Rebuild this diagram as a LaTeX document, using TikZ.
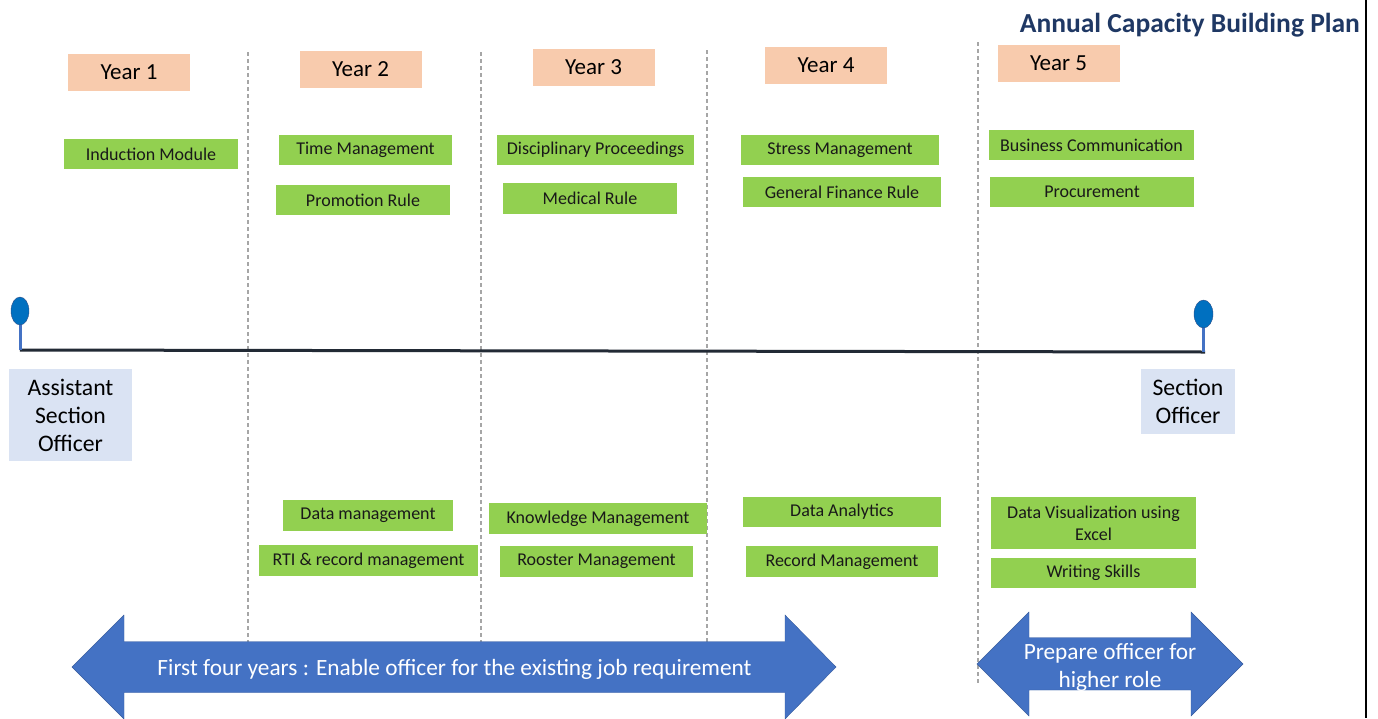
\documentclass[tikz,border=0pt]{standalone}
\usepackage{fontspec}
\setmainfont{Carlito}
\definecolor{peach}{HTML}{F8CBAD}
\definecolor{lgreen}{HTML}{92D050}
\definecolor{lblue}{HTML}{DAE3F3}
\definecolor{mblue}{HTML}{4472C4}
\definecolor{pinblue}{HTML}{0070C0}
\definecolor{navy}{HTML}{1F3864}
\definecolor{dline}{HTML}{A6A6A6}
\definecolor{tline}{HTML}{222A35}
\begin{document}
\begin{tikzpicture}[x=1pt,y=-1pt,
  yearbox/.style={fill=peach,draw=none,inner sep=0pt,minimum width=122pt,minimum height=37pt,font=\fontsize{23}{27}\selectfont},
  gbox/.style={fill=lgreen,draw=none,inner sep=0pt,minimum height=30pt,font=\fontsize{18}{22}\selectfont,text=black!90},
  rolebox/.style={fill=lblue,draw=none,inner sep=0pt,align=center,font=\fontsize{23.7}{28}\selectfont},
  sep/.style={draw=dline,line width=1.2pt,dash pattern=on 4pt off 3pt},
  bigarrow/.style={fill=mblue,draw=mblue!80!black,line width=0.4pt},
  arrowtext/.style={text=white,align=center,font=\fontsize{23.3}{28}\selectfont,inner sep=0pt},
  stem/.style={draw=mblue,line width=3pt},
  pin/.style={fill=pinblue,draw=mblue!70!black,line width=0.4pt}
]
\useasboundingbox (0,0) rectangle (1378,718);
\fill[white] (0,0) rectangle (1378,718);

% right border
\draw[black,line width=2pt] (1366,0) -- (1366,718);

% title
\node[anchor=east,text=navy,font=\bfseries\fontsize{27.5}{32}\selectfont,inner sep=0pt] (title) at (1360,25) {Annual Capacity Building Plan};

% separators
\coordinate (s1a) at (248,52); \coordinate (s1b) at (248,650);
\coordinate (s2a) at (481,52); \coordinate (s2b) at (481,650);
\coordinate (s3a) at (707,50); \coordinate (s3b) at (707,650);
\coordinate (s4a) at (978,42); \coordinate (s4b) at (978,684);
\draw[sep] (s1a) -- (s1b);
\draw[sep] (s2a) -- (s2b);
\draw[sep] (s3a) -- (s3b);
\draw[sep] (s4a) -- (s4b);

% year boxes
\node[yearbox] (y1) at (129,72.5) {Year 1};
\node[yearbox] (y2) at (360.5,69.5) {Year 2};
\node[yearbox] (y3) at (593.5,67.5) {Year 3};
\node[yearbox] (y4) at (826,65.5) {Year 4};
\node[yearbox] (y5) at (1058.5,63) {Year 5};

% upper green boxes
\node[gbox,minimum width=174pt] (induction) at (151,154) {Induction Module};
\node[gbox,minimum width=173pt] (time) at (365.5,150) {Time Management};
\node[gbox,minimum width=174pt] (promotion) at (363,200) {Promotion Rule};
\node[gbox,minimum width=197pt] (disc) at (595.5,150) {Disciplinary Proceedings};
\node[gbox,minimum width=174pt,minimum height=31pt] (medical) at (590,198.5) {Medical Rule};
\node[gbox,minimum width=198pt] (stress) at (840,150) {Stress Management};
\node[gbox,minimum width=198pt] (gfr) at (842,192) {General Finance Rule};
\node[gbox,minimum width=205pt] (business) at (1091.5,145) {Business Communication};
\node[gbox,minimum width=204pt] (procure) at (1092,192) {Procurement};

% timeline
\coordinate (tl) at (20,350);
\coordinate (tr) at (1205,352);
\draw[tline,line width=3pt] (tl) -- (tr);
\coordinate (p1) at (20,311);
\coordinate (p2) at (1203.5,314);
\draw[stem] (p1) -- (tl);
\draw[stem] (p2) -- (1203.5,352);
\draw[pin] (p1) ellipse [x radius=9pt, y radius=14pt];
\draw[pin] (p2) ellipse [x radius=9.5pt, y radius=14pt];

% role boxes
\node[rolebox,minimum width=123pt,minimum height=92pt] (aso) at (70.5,415) {Assistant\\Section\\Officer};
\node[rolebox,minimum width=94pt,minimum height=65pt] (so) at (1188,401.5) {Section\\Officer};

% lower green boxes
\node[gbox,minimum width=170pt,minimum height=31pt] (datam) at (368,515.5) {Data management};
\node[gbox,minimum width=219pt,minimum height=31pt] (rti) at (368.5,560.5) {RTI \& record management};
\node[gbox,minimum width=218pt,minimum height=31pt] (know) at (598,518.5) {Knowledge Management};
\node[gbox,minimum width=193pt,minimum height=31pt] (rooster) at (596.5,561.5) {Rooster Management};
\node[gbox,minimum width=198pt] (analytics) at (842,512) {Data Analytics};
\node[gbox,minimum width=192pt,minimum height=31pt] (record) at (842,561.5) {Record Management};
\node[gbox,minimum width=205pt,minimum height=52pt,align=center,font=\fontsize{18}{22}\selectfont] (dataviz) at (1093.5,523) {Data Visualization using\\Excel};
\node[gbox,minimum width=205pt] (writing) at (1093.5,573) {Writing Skills};

% big arrows
\path[bigarrow] (72,667) -- (124,615) -- (124,641.5) -- (785,641.5) -- (785,615) -- (836,667) -- (785,719) -- (785,692.5) -- (124,692.5) -- (124,719) -- cycle;
\node[arrowtext] (a1text) at (454.5,669) {First four years : Enable officer for the existing job requirement};

\path[bigarrow] (977,664) -- (1029,612) -- (1029,637.5) -- (1191,637.5) -- (1191,612) -- (1243,664) -- (1191,716) -- (1191,690) -- (1029,690) -- (1029,716) -- cycle;
\node[arrowtext] (a2text) at (1110,667) {Prepare officer for\\higher role};
\end{tikzpicture}
\end{document}
